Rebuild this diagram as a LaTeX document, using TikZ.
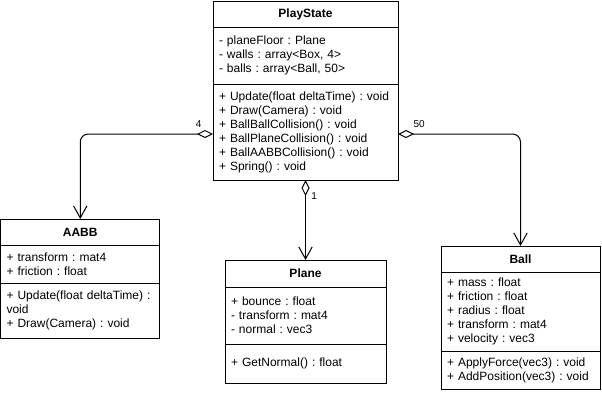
\documentclass[tikz,border=0pt]{standalone}
\usepackage{fontspec}
\setmainfont{Liberation Sans}
\usepackage{xcolor}
\definecolor{cLine}{HTML}{000000}
\usepackage{tikz}
\usetikzlibrary{positioning,arrows.meta}
\frenchspacing
\tikzset{
  class-title/.style={draw=cLine,line width=0.75pt,fill=white,outer sep=0pt,
    text width=#1,inner xsep=4.5pt,inner ysep=0pt,
    align=center,font=\fontsize{9pt}{10.5pt}\selectfont\bfseries},
  class-part/.style={draw=cLine,line width=0.75pt,fill=white,outer sep=0pt,
    text width=#1,inner xsep=4.5pt,inner ysep=0pt,
    align=left,font=\fontsize{9pt}{10.5pt}\selectfont},
  arrow-agg/.style={{Diamond[open,length=12pt,width=6pt]}-{Straight Barb[length=9pt,width=10pt]},
    line width=0.75pt,draw=cLine,rounded corners=6pt},
  label-mult/.style={font=\fontsize{7.5pt}{9pt}\selectfont,inner sep=1pt},
}

\begin{document}
\begin{tikzpicture}[x=0.75pt,y=-0.75pt]
  \useasboundingbox (0,0) rectangle (602,400);
  % PlayState
  \node[class-title=129.75pt,minimum height=19.5pt,anchor=north] (ps-title) at (305.5,1) {PlayState};
  \node[class-part=129.75pt,minimum height=42.75pt,below=0pt of ps-title] (ps-attr)
    {- planeFloor : Plane\\- walls : array<Box, 4>\\- balls : array<Ball, 50>};
  \node[class-part=129.75pt,minimum height=72pt,below=0pt of ps-attr] (ps-ops)
    {+ Update(float deltaTime) : void\\+ Draw(Camera) : void\\+ BallBallCollision() : void\\%
     + BallPlaneCollision() : void\\+ BallAABBCollision() : void\\+ Spring() : void};
  % AABB
  \node[class-title=110.6pt,minimum height=19.5pt,anchor=north] (aabb-title) at (80.25,219) {AABB};
  \node[class-part=110.6pt,minimum height=28.5pt,below=0pt of aabb-title] (aabb-attr)
    {+ transform : mat4\\+ friction : float};
  \node[class-part=110.6pt,minimum height=41.25pt,below=0pt of aabb-attr] (aabb-ops)
    {+ Update(float deltaTime) :\\void\\+ Draw(Camera) : void};
  % Plane
  \node[class-title=111.75pt,minimum height=20.25pt,anchor=north] (plane-title) at (305.5,260) {Plane};
  \node[class-part=111.75pt,minimum height=42.75pt,below=0pt of plane-title] (plane-attr)
    {+ bounce : float\\- transform : mat4\\- normal : vec3};
  \node[class-part=111.75pt,minimum height=29.25pt,below=0pt of plane-attr] (plane-ops)
    {+ GetNormal() : float};
  % Ball
  \node[class-title=110.25pt,minimum height=19.5pt,anchor=north] (ball-title) at (520.5,246) {Ball};
  \node[class-part=110.25pt,minimum height=59.25pt,below=0pt of ball-title] (ball-attr)
    {+ mass : float\\+ friction : float\\+ radius : float\\+ transform : mat4\\+ velocity : vec3};
  \node[class-part=110.25pt,minimum height=28.5pt,below=0pt of ball-attr] (ball-ops)
    {+ ApplyForce(vec3) : void\\+ AddPosition(vec3) : void};
  % aggregations
  \draw[arrow-agg] ([yshift=-1.5pt]ps-ops.west) -| (aabb-title.north)
    node[at start,anchor=south east,xshift=-7.25pt,yshift=3.5pt,label-mult] (mult-aabb) {4};
  \draw[arrow-agg] ([yshift=-1.5pt]ps-ops.east) -| (ball-title.north)
    node[at start,anchor=south west,xshift=10.25pt,yshift=3.5pt,label-mult] (mult-ball) {50};
  \draw[arrow-agg] (ps-ops.south) -- (plane-title.north)
    node[at start,anchor=north west,xshift=3pt,yshift=-8pt,label-mult] (mult-plane) {1};
\end{tikzpicture}
\end{document}
